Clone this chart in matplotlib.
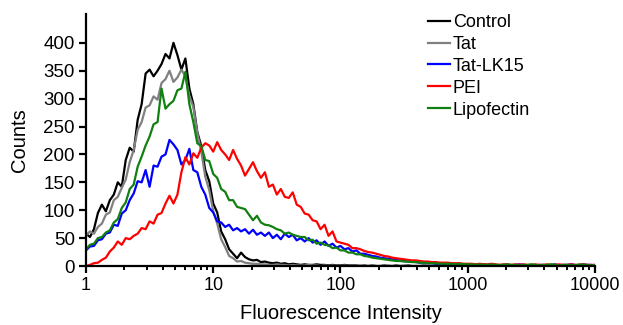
import numpy as np
import matplotlib
matplotlib.use("Agg")
import matplotlib.pyplot as plt
from matplotlib.ticker import FixedLocator, LogLocator, NullFormatter

plt.rcParams['font.family'] = ['Liberation Sans', 'DejaVu Sans']

# histogram counts, 32 channels per decade from 1 to 10000
channels_per_decade = 32

control = [58, 52, 66, 95, 110, 98, 118, 128, 150, 142,
           190, 212, 205, 262, 290, 345, 352, 340, 350, 362,
           380, 372, 400, 378, 352, 372, 318, 290, 240, 215,
           172, 152, 112, 96, 62, 48, 30, 22, 14, 24,
           16, 12, 10, 11, 7, 8, 6, 5, 6, 4,
           5, 3, 4, 3, 2, 3, 2, 2, 3, 2,
           2, 1, 2, 1, 1, 2, 1, 1, 1, 0,
           1, 0, 1, 0, 0, 1, 0, 0, 1, 0,
           0, 1, 0, 0, 0, 1, 0, 0, 0,
           0, 0, 1, 0, 0, 0, 0, 1,
           0, 0, 0, 0, 1, 0, 0, 0,
           0, 0, 0, 1, 0, 0, 0, 0,
           0, 0, 1, 0, 0, 0, 0, 0,
           1, 0, 0, 0, 0, 0, 0, 0]

tat = [55, 62, 58, 70, 76, 92, 96, 118, 124, 140,
       155, 186, 208, 244, 258, 284, 288, 304, 298, 328,
       335, 350, 330, 338, 352, 340, 305, 285, 238, 205,
       160, 136, 98, 76, 48, 34, 18, 14, 8, 9,
       6, 5, 4, 4, 3, 3, 2, 2, 3, 2,
       2, 1, 2, 1, 1, 1, 2, 1, 1, 0,
       1, 0, 1, 0, 0, 1, 0, 0, 0, 1,
       0, 0, 1, 0, 0, 0, 1, 0, 0, 0,
       1, 0, 0, 0, 0, 1, 0, 0, 0,
       0, 1, 0, 0, 0, 0, 1, 0,
       0, 0, 0, 1, 0, 0, 0, 0,
       1, 0, 0, 0, 0, 0, 1, 0,
       0, 0, 0, 0, 1, 0, 0, 0,
       0, 0, 1, 0, 0, 0, 0, 0]

tat_lk15 = [28, 35, 36, 46, 48, 58, 60, 74, 72, 94,
            100, 118, 130, 152, 150, 172, 142, 180, 178, 196,
            200, 226, 218, 208, 182, 190, 210, 172, 168, 142,
            128, 104, 96, 80, 78, 70, 74, 64, 68, 62,
            66, 58, 65, 56, 60, 54, 60, 50, 56, 48,
            58, 52, 56, 46, 50, 44, 50, 42, 46, 38,
            44, 36, 40, 33, 36, 30, 32, 26, 28, 22,
            22, 20, 18, 17, 15, 14, 13, 12, 11, 10,
            9, 8, 8, 7, 6, 6, 5, 5, 4,
            4, 4, 3, 4, 3, 3, 3, 2,
            3, 2, 2, 3, 2, 2, 2, 1,
            2, 2, 1, 2, 3, 2, 1, 2,
            1, 2, 2, 1, 2, 3, 1, 2,
            2, 3, 2, 1, 3, 2, 2, 1]

pei = [0, 2, 5, 6, 11, 15, 26, 33, 44, 38,
       50, 48, 54, 58, 68, 66, 80, 76, 92, 95,
       112, 126, 112, 128, 168, 195, 182, 202, 194, 212,
       220, 216, 205, 222, 208, 200, 190, 208, 192, 180,
       162, 174, 186, 170, 158, 168, 142, 146, 128, 138,
       124, 122, 132, 110, 106, 94, 92, 82, 80, 66,
       74, 54, 62, 44, 42, 40, 38, 32, 32, 30,
       27, 25, 24, 22, 20, 18, 17, 15, 14, 13,
       12, 11, 10, 10, 9, 8, 8, 7, 7,
       6, 6, 6, 5, 5, 5, 4, 4,
       4, 3, 4, 3, 3, 4, 3, 2,
       3, 3, 2, 3, 2, 3, 2, 2,
       3, 2, 2, 3, 2, 2, 3, 2,
       2, 3, 2, 2, 3, 2, 2, 2]

lipofectin = [30, 38, 40, 50, 52, 60, 64, 78, 84, 104,
              114, 138, 146, 178, 196, 216, 232, 254, 258, 318,
              282, 290, 296, 315, 318, 348, 290, 258, 220, 215,
              190, 188, 165, 158, 138, 133, 118, 118, 106, 104,
              102, 92, 82, 90, 78, 74, 73, 70, 66, 64,
              58, 60, 56, 54, 52, 52, 46, 47, 40, 42,
              38, 37, 32, 33, 28, 28, 24, 24, 21, 21,
              18, 17, 15, 14, 13, 12, 11, 10, 9, 9,
              8, 8, 7, 7, 6, 6, 5, 5, 5,
              4, 4, 4, 4, 3, 4, 3, 3,
              3, 2, 3, 2, 2, 3, 2, 2,
              2, 3, 2, 2, 1, 2, 2, 3,
              2, 1, 2, 2, 3, 2, 1, 2,
              2, 2, 1, 3, 2, 2, 1, 2]

labels = ['Control', 'Tat', 'Tat-LK15', 'PEI', 'Lipofectin']
colors = ['black', '#808080', '#0000ff', '#ff0000', '#108010']
series = [control, tat, tat_lk15, pei, lipofectin]

fig = plt.figure(figsize=(6.23, 3.25), dpi=100)
ax = fig.add_axes([0.138, 0.1815, 0.817, 0.776])

for vals, lab, col in zip(series, labels, colors):
    x = 10 ** (np.arange(len(vals)) / channels_per_decade)
    ax.plot(x, vals, color=col, lw=1.6, label=lab)

ax.set_xscale('log')
ax.set_xlim(1, 10000)
ax.set_ylim(0, 452)
ax.set_yticks(range(0, 401, 50))
ax.xaxis.set_major_locator(FixedLocator([1, 10, 100, 1000, 10000]))
ax.set_xticklabels(['1', '10', '100', '1000', '10000'])
ax.xaxis.set_minor_locator(LogLocator(base=10, subs=range(2, 10)))
ax.xaxis.set_minor_formatter(NullFormatter())

for s in ['top', 'right']:
    ax.spines[s].set_visible(False)
for s in ['left', 'bottom']:
    ax.spines[s].set_linewidth(1.6)
ax.tick_params(axis='both', which='major', direction='out', length=5, width=1.6,
               labelsize=13, pad=3)
ax.tick_params(axis='y', labelsize=13.5)
ax.tick_params(axis='x', which='minor', direction='out', length=3, width=1.4)

ax.set_xlabel('Fluorescence Intensity', fontsize=14.5, labelpad=7)
ax.set_ylabel('Counts', fontsize=14.5, labelpad=10)

ax.legend(loc='upper left', bbox_to_anchor=(0.655, 1.035), frameon=False,
          fontsize=13, handlelength=1.2, handletextpad=0.15, labelspacing=0.27,
          borderpad=0)

fig.savefig('out.png', dpi=100)
